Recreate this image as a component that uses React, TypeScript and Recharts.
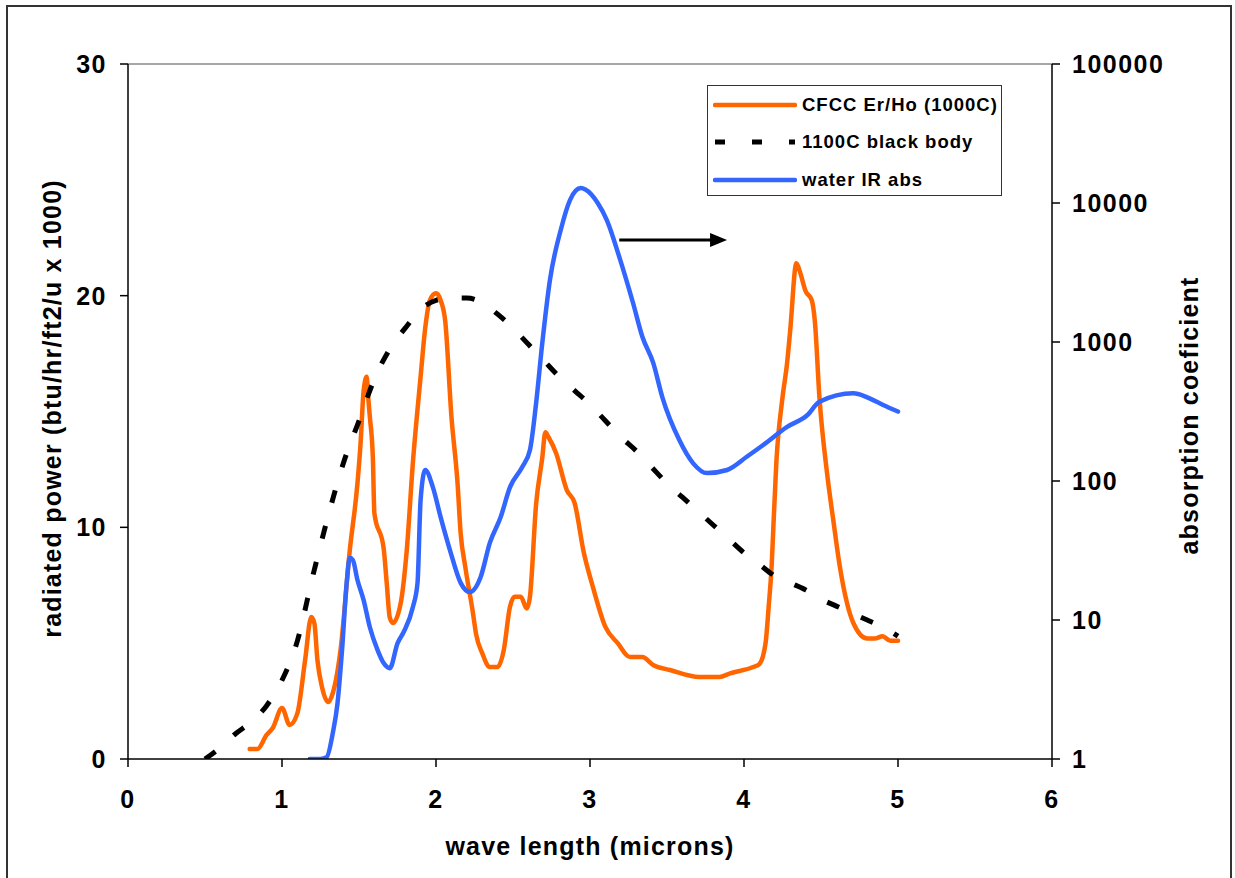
import { LineChart, Line, XAxis, YAxis, Legend, ReferenceLine } from 'recharts';

const FONT = '"Liberation Sans", Arial, sans-serif';

// CFCC Er/Ho emission (left axis, btu/hr/ft2/u x 1000)
const erWave = [
  0.79, 0.84, 0.9, 0.94, 1.0, 1.05, 1.1, 1.15, 1.19, 1.21,
  1.23, 1.26, 1.3, 1.33, 1.38, 1.44, 1.49, 1.51, 1.53, 1.55,
  1.56, 1.57, 1.59, 1.6, 1.66, 1.68, 1.7, 1.72, 1.77, 1.81,
  1.85, 1.9, 1.93, 1.96, 2.0, 2.03, 2.06, 2.1, 2.14, 2.16,
  2.19, 2.24, 2.26, 2.3, 2.35, 2.4, 2.44, 2.48, 2.51, 2.55,
  2.59, 2.61, 2.65, 2.69, 2.71, 2.73, 2.78, 2.85, 2.9, 2.96,
  3.02, 3.1, 3.18, 3.26, 3.34, 3.41, 3.52, 3.71, 3.84, 3.91,
  4.06, 4.1, 4.14, 4.16, 4.18, 4.19, 4.21, 4.25, 4.28, 4.3,
  4.34, 4.36, 4.4, 4.44, 4.46, 4.49, 4.54, 4.58, 4.62, 4.67,
  4.71, 4.8, 4.85, 4.9, 4.95, 5.0,
];
const erPower = [
  0.43, 0.43, 1.04, 1.34, 2.2, 1.47, 1.98, 4.27, 6.13, 5.87,
  4.27, 3.1, 2.46, 2.85, 4.7, 9.0, 11.9, 13.6, 15.9, 16.5,
  15.6, 14.8, 13.0, 10.6, 9.1, 7.6, 6.1, 5.87, 6.7, 9.0,
  12.8, 16.5, 18.6, 19.8, 20.1, 19.8, 18.9, 14.8, 11.9, 9.75,
  8.3, 6.3, 5.4, 4.57, 3.97, 3.97, 4.7, 6.56, 7.0, 7.0,
  6.5, 7.0, 11.0, 13.0, 14.1, 13.9, 13.2, 11.6, 11.05, 8.9,
  7.4, 5.7, 5.0, 4.4, 4.4, 4.06, 3.84, 3.54, 3.54, 3.7,
  3.97, 4.1, 5.0, 6.56, 8.4, 9.9, 12.8, 15.6, 17.1, 18.5,
  21.4, 21.1, 20.2, 19.8, 18.9, 15.6, 12.3, 10.3, 8.4, 6.7,
  5.87, 5.2, 5.2, 5.3, 5.1, 5.1,
];

// 1100C black body (left axis)
const bbWave = [
  0.5, 0.6, 0.7, 0.8, 0.9, 1.0, 1.1, 1.2, 1.3, 1.4,
  1.5, 1.6, 1.7, 1.8, 1.9, 2.0, 2.1, 2.2, 2.3, 2.4,
  2.5, 2.6, 2.7, 2.8, 2.9, 3.0, 3.1, 3.2, 3.3, 3.4,
  3.5, 3.6, 3.7, 3.8, 3.9, 4.0, 4.1, 4.2, 4.3, 4.4,
  4.5, 4.6, 4.7, 4.8, 4.9, 5.0,
];
const bbPower = [
  0.0, 0.5, 1.1, 1.6, 2.3, 3.4, 5.1, 7.9, 10.5, 12.8,
  14.6, 16.4, 17.7, 18.6, 19.4, 19.8, 19.9, 19.9, 19.7, 19.2,
  18.6, 17.9, 17.2, 16.5, 15.9, 15.3, 14.6, 13.9, 13.3, 12.6,
  11.9, 11.3, 10.7, 10.1, 9.5, 8.9, 8.4, 7.9, 7.6, 7.3,
  6.9, 6.6, 6.3, 6.0, 5.7, 5.3,
];

// water IR absorption coefficient (right axis, log)
const waterWave = [
  1.18, 1.25, 1.29, 1.33, 1.36, 1.39, 1.42, 1.44, 1.46, 1.49,
  1.53, 1.57, 1.62, 1.66, 1.7, 1.75, 1.79, 1.85, 1.88, 1.9,
  1.93, 1.98, 2.03, 2.09, 2.16, 2.22, 2.29, 2.35, 2.42, 2.48,
  2.56, 2.61, 2.65, 2.69, 2.74, 2.81, 2.87, 2.94, 2.97, 3.05,
  3.11, 3.19, 3.28, 3.34, 3.41, 3.47, 3.58, 3.67, 3.76, 3.89,
  4.02, 4.12, 4.28, 4.41, 4.49, 4.71, 4.8, 4.9, 5.0,
];
const waterAbs = [
  1.0, 1.0, 1.03, 1.54, 2.5, 6.1, 18.5, 28, 27, 19.4,
  13.9, 8.9, 6.1, 4.9, 4.5, 6.8, 8.2, 12.4, 18.5, 73,
  120, 90, 55, 32, 18.5, 15.9, 20.4, 36, 55, 90,
  126, 167, 363, 980, 2800, 6400, 10500, 12800, 12500, 10000,
  7500, 4100, 1900, 1090, 710, 400, 197, 134, 114, 120,
  150, 180, 245, 297, 371, 427, 400, 354, 316,
];

const xTicks = [0, 1, 2, 3, 4, 5, 6];
const powerTicks = [0, 10, 20, 30];
const absTicks = [1, 10, 100, 1000, 10000, 100000];

// arrow pointing at the right-hand axis
const arrowStart = { x: 3.19, y: 22.4 };
const arrowEnd = { x: 3.89, y: 22.4 };

const toPoints = (xs: number[], ys: number[]) => xs.map((x, i) => ({ x, y: ys[i] }));

const erData = toPoints(erWave, erPower);
const bbData = toPoints(bbWave, bbPower);
const waterData = toPoints(waterWave, waterAbs);

const legendItems = [
  { name: 'CFCC Er/Ho (1000C)', color: '#FF6600', dash: undefined },
  { name: '1100C black body', color: '#000000', dash: '10 27' },
  { name: 'water IR abs', color: '#3366FF', dash: undefined },
];

const tickStyle = { fill: '#000', fontSize: 25, fontWeight: 700, letterSpacing: 1.5, fontFamily: FONT };
const titleStyle = { fill: '#000', fontSize: 25, fontWeight: 700, letterSpacing: 1.2, fontFamily: FONT };

const renderLegend = () => (
  <div
    style={{
      position: 'relative',
      width: 295,
      height: 111,
      boxSizing: 'border-box',
      border: '1.5px solid #333',
      background: '#fff',
      fontFamily: FONT,
      fontWeight: 700,
      fontSize: 18.5,
      letterSpacing: 1,
      color: '#000',
    }}
  >
    {legendItems.map((item, i) => (
      <div
        key={item.name}
        style={{
          position: 'absolute',
          left: 5,
          top: i * 37.5,
          height: 37.5,
          display: 'flex',
          alignItems: 'center',
          whiteSpace: 'nowrap',
        }}
      >
        <svg width={84} height={8} style={{ marginRight: 5 }}>
          <line
            x1={2}
            y1={4}
            x2={82}
            y2={4}
            stroke={item.color}
            strokeWidth={item.dash ? 5 : 4.5}
            strokeLinecap={item.dash ? 'butt' : 'round'}
            strokeDasharray={item.dash}
          />
        </svg>
        <span>{item.name}</span>
      </div>
    ))}
  </div>
);

const ArrowShape = (props: any) => {
  const { x1, y1, x2, y2 } = props;
  return (
    <g>
      <line x1={x1} y1={y1} x2={x2 - 12} y2={y2} stroke="#000" strokeWidth={3} />
      <polygon points={`${x2},${y2} ${x2 - 17},${y2 - 7} ${x2 - 17},${y2 + 7}`} fill="#000" />
    </g>
  );
};

const LeftTitle = (props: any) => {
  const { viewBox } = props;
  const x = viewBox.x + 53;
  const y = viewBox.y + viewBox.height / 2 - 3;
  return (
    <text x={x} y={y} transform={`rotate(-90 ${x} ${y})`} textAnchor="middle" style={titleStyle}>
      radiated power (btu/hr/ft2/u x 1000)
    </text>
  );
};

const RightTitle = (props: any) => {
  const { viewBox } = props;
  const x = viewBox.x + 146;
  const y = viewBox.y + viewBox.height / 2 + 4;
  return (
    <text x={x} y={y} transform={`rotate(-90 ${x} ${y})`} textAnchor="middle" style={titleStyle}>
      absorption coeficient
    </text>
  );
};

const BottomTitle = (props: any) => {
  const { viewBox } = props;
  return (
    <text x={viewBox.x + viewBox.width / 2} y={viewBox.y + 96} textAnchor="middle" style={titleStyle}>
      wave length (microns)
    </text>
  );
};

export default function App() {
  return (
    <div
      style={{
        position: 'absolute',
        left: 0,
        top: 0,
        width: 1235,
        height: 878,
        overflow: 'hidden',
        background: '#fff',
      }}
    >
      <div
        style={{
          position: 'absolute',
          left: 6,
          top: 5,
          width: 1226,
          height: 900,
          boxSizing: 'border-box',
          border: '2px solid #333',
        }}
      />
      <LineChart
        width={1235}
        height={878}
        margin={{ top: 64, right: 8, bottom: 49, left: 8 }}
        style={{ position: 'absolute', left: 0, top: 0 }}
      >
        <XAxis
          dataKey="x"
          type="number"
          domain={[0, 6]}
          ticks={xTicks}
          allowDataOverflow
          height={70}
          stroke="#000"
          strokeWidth={1.5}
          tickSize={8}
          tickMargin={23}
          tick={tickStyle}
          label={BottomTitle}
        />
        <YAxis
          yAxisId="left"
          type="number"
          domain={[0, 30]}
          ticks={powerTicks}
          allowDataOverflow
          width={120}
          stroke="#000"
          strokeWidth={1.5}
          tickSize={8}
          tickMargin={13}
          tick={tickStyle}
          label={LeftTitle}
        />
        <YAxis
          yAxisId="right"
          orientation="right"
          type="number"
          scale="log"
          domain={[1, 100000]}
          ticks={absTicks}
          allowDataOverflow
          width={175}
          stroke="#000"
          strokeWidth={1.5}
          tickSize={8}
          tickMargin={12}
          tick={tickStyle}
          label={RightTitle}
        />
        <ReferenceLine yAxisId="left" y={30} stroke="#888" strokeWidth={1.5} />
        <Legend
          layout="vertical"
          align="center"
          verticalAlign="middle"
          wrapperStyle={{ left: 707, top: 85, width: 295, height: 111 }}
          content={renderLegend}
        />
        <Line
          yAxisId="left"
          data={erData}
          dataKey="y"
          name="CFCC Er/Ho (1000C)"
          type="monotone"
          stroke="#FF6600"
          strokeWidth={4.5}
          strokeLinejoin="round"
          strokeLinecap="round"
          dot={false}
          isAnimationActive={false}
        />
        <Line
          yAxisId="right"
          data={waterData}
          dataKey="y"
          name="water IR abs"
          type="monotone"
          stroke="#3366FF"
          strokeWidth={4.5}
          strokeLinejoin="round"
          strokeLinecap="round"
          dot={false}
          isAnimationActive={false}
        />
        <Line
          yAxisId="left"
          data={bbData}
          dataKey="y"
          name="1100C black body"
          type="monotone"
          stroke="#000"
          strokeWidth={5}
          strokeDasharray="13 24"
          dot={false}
          isAnimationActive={false}
        />
        <ReferenceLine
          yAxisId="left"
          segment={[arrowStart, arrowEnd]}
          shape={ArrowShape}
        />
      </LineChart>
    </div>
  );
}
